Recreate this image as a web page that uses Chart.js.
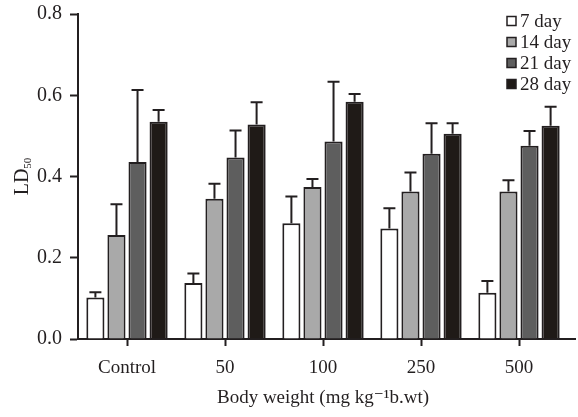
<!DOCTYPE html>
<html>
<head>
<meta charset="utf-8">
<script src="https://cdn.jsdelivr.net/npm/chart.js@4.4.0/dist/chart.umd.min.js"></script>
<style>
  html, body { margin: 0; padding: 0; background: #fff; }
  #wrap { width: 578px; height: 417px; }
</style>
</head>
<body>
<div id="wrap"><canvas id="chart" width="578" height="417"></canvas></div>
<script>
// categories and series
const categories = ['Control', '50', '100', '250', '500'];
const seriesNames = ['7 day', '14 day', '21 day', '28 day'];
const day7 = [0.102, 0.138, 0.285, 0.272, 0.114];
const day14 = [0.256, 0.345, 0.374, 0.363, 0.363];
const day21 = [0.436, 0.447, 0.486, 0.456, 0.476];
const day28 = [0.535, 0.528, 0.584, 0.505, 0.525];
// upper error (SD) for each bar
const err7 = [0.013, 0.023, 0.066, 0.050, 0.029];
const err14 = [0.076, 0.037, 0.020, 0.047, 0.028];
const err21 = [0.177, 0.066, 0.147, 0.075, 0.036];
const err28 = [0.029, 0.055, 0.019, 0.026, 0.047];
const yTicks = [0.0, 0.2, 0.4, 0.6, 0.8];

const ink = '#231f20';
const fills = ['#ffffff', '#a9a9a9', '#5e5e5e', '#1f1a17'];
const serif = '"Liberation Serif", "DejaVu Serif", serif';

const values = [day7, day14, day21, day28];
const errors = [err7, err14, err21, err28];

// draws the upper error bars on top of each bar
const errorBars = {
  id: 'errorBars',
  afterDatasetsDraw(chart) {
    const ctx = chart.ctx;
    const yScale = chart.scales.y;
    ctx.save();
    ctx.strokeStyle = ink;
    ctx.lineWidth = 2;
    chart.data.datasets.forEach((ds, i) => {
      const meta = chart.getDatasetMeta(i);
      meta.data.forEach((bar, j) => {
        const top = yScale.getPixelForValue(ds.data[j] + errors[i][j]);
        const half = 6;
        ctx.beginPath();
        ctx.moveTo(bar.x, bar.y);
        ctx.lineTo(bar.x, top);
        ctx.moveTo(bar.x - half, top);
        ctx.lineTo(bar.x + half, top);
        ctx.stroke();
      });
    });
    ctx.restore();
  }
};

// legend in the upper right, the LD50 axis title with subscript,
// and the small run-on of the x axis line past the last category
const extras = {
  id: 'extras',
  afterDraw(chart) {
    const ctx = chart.ctx;
    const area = chart.chartArea;
    ctx.save();
    ctx.strokeStyle = ink;
    ctx.lineWidth = 2;
    ctx.beginPath();
    ctx.moveTo(area.right - 1, area.bottom);
    ctx.lineTo(576, area.bottom);
    ctx.stroke();

    ctx.font = '19px ' + serif;
    ctx.textBaseline = 'middle';
    seriesNames.forEach((name, i) => {
      const y = 21 + i * 21;
      ctx.fillStyle = fills[i];
      ctx.fillRect(507, y - 4.5, 9, 9);
      ctx.strokeStyle = ink;
      ctx.lineWidth = 1.5;
      ctx.strokeRect(507, y - 4.5, 9, 9);
      ctx.fillStyle = ink;
      ctx.textAlign = 'left';
      ctx.fillText(name, 520, y + 1);
    });

    ctx.translate(28, (area.top + area.bottom) / 2);
    ctx.rotate(-Math.PI / 2);
    ctx.font = '20px ' + serif;
    const w1 = ctx.measureText('LD').width;
    ctx.font = '11px ' + serif;
    const w2 = ctx.measureText('50').width;
    const start = -(w1 + w2) / 2;
    ctx.textAlign = 'left';
    ctx.textBaseline = 'alphabetic';
    ctx.font = '20px ' + serif;
    ctx.fillText('LD', start, 0);
    ctx.font = '11px ' + serif;
    ctx.fillText('50', start + w1, 3);
    ctx.restore();
  }
};

new Chart(document.getElementById('chart'), {
  type: 'bar',
  data: {
    labels: categories,
    datasets: seriesNames.map((name, i) => ({
      label: name,
      data: values[i],
      backgroundColor: fills[i],
      borderColor: ink,
      borderWidth: 2,
      borderSkipped: 'bottom',
      categoryPercentage: 0.86,
      barPercentage: 0.86
    }))
  },
  options: {
    responsive: false,
    animation: false,
    layout: { padding: { top: 14, right: 10, left: 0, bottom: 0 } },
    plugins: {
      legend: { display: false },
      tooltip: { enabled: false }
    },
    scales: {
      x: {
        grid: {
          offset: false,
          drawOnChartArea: false,
          drawTicks: true,
          tickLength: 7,
          tickWidth: 2,
          tickColor: ink
        },
        border: { color: ink, width: 2 },
        ticks: {
          color: ink,
          font: { family: serif, size: 19 },
          padding: 11,
          maxRotation: 0
        },
        title: {
          display: true,
          text: 'Body weight (mg kg\u207B\u00B9b.wt)',
          color: ink,
          font: { family: serif, size: 19 },
          padding: { top: 2, bottom: 8 }
        },
        afterFit(scale) {
          scale.height = 78;
          scale.paddingLeft = 0;
          scale.paddingRight = 0;
        }
      },
      y: {
        min: 0,
        max: 0.8,
        afterBuildTicks(scale) {
          scale.ticks = yTicks.map(v => ({ value: v }));
        },
        grid: {
          drawOnChartArea: false,
          tickLength: 8,
          tickWidth: 2,
          tickColor: ink
        },
        border: { color: ink, width: 2 },
        ticks: {
          color: ink,
          font: { family: serif, size: 20 },
          padding: 8,
          callback: v => v.toFixed(1)
        },
        afterFit(scale) {
          scale.width = 78;
          scale.paddingTop = 0;
          scale.paddingBottom = 0;
        }
      }
    }
  },
  plugins: [errorBars, extras]
});
</script>
</body>
</html>
